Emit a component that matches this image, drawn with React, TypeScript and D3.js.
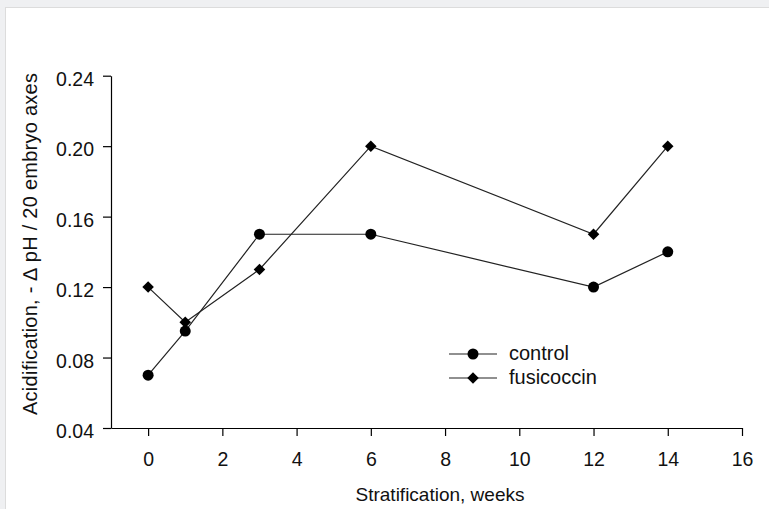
import React, { useEffect, useRef } from 'react';
import * as d3 from 'd3';

const weeks = [0, 1, 3, 6, 12, 14];
const controlValues = [0.07, 0.095, 0.15, 0.15, 0.12, 0.14];
const fusicoccinValues = [0.12, 0.10, 0.13, 0.20, 0.15, 0.20];
const xTicks = [0, 2, 4, 6, 8, 10, 12, 14, 16];
const yTicks = [0.04, 0.08, 0.12, 0.16, 0.20, 0.24];
const seriesNames = ['control', 'fusicoccin'];

const W = 769;
const H = 509;
const FONT = '"Liberation Sans", Arial, sans-serif';

const App = () => {
    const svgRef = useRef<SVGSVGElement | null>(null);

    useEffect(() => {
        if (!svgRef.current) return;
        const root = d3.select(svgRef.current);
        root.selectAll('*').remove();

        // page background + white panel
        root.append('rect').attr('width', W).attr('height', H).attr('fill', '#eff0f2');
        root.append('rect').attr('x', 5.5).attr('y', 7.5).attr('width', W).attr('height', H)
            .attr('fill', '#fff').attr('stroke', '#dcdcdc');

        const x = d3.scaleLinear().domain([-1, 16]).range([111, 742]);
        const y = d3.scaleLinear().domain([0.04, 0.24]).range([428, 75.7]);

        const axisStyle = (g: any) => {
            g.select('.domain').attr('stroke', '#000').attr('stroke-width', 1.2);
            g.selectAll('.tick line').attr('stroke', '#000').attr('stroke-width', 1.2);
            g.selectAll('.tick text').attr('fill', '#111').style('font-family', FONT).style('font-size', '19.5px');
        };

        root.append('g')
            .attr('transform', 'translate(0,428)')
            .call(d3.axisBottom(x).tickValues(xTicks).tickSize(8).tickSizeOuter(0).tickPadding(16).tickFormat(d3.format('d')))
            .call(axisStyle);

        root.append('g')
            .attr('transform', 'translate(111,0)')
            .call(d3.axisLeft(y).tickValues(yTicks).tickSize(8).tickSizeOuter(0).tickPadding(9).tickFormat(d3.format('.2f')))
            .call(axisStyle)
            .selectAll('.tick text').attr('dy', '0.5em');

        const line = d3.line<[number, number]>().x(d => x(d[0])).y(d => y(d[1]));
        const diamond = d3.symbol().type(d3.symbolDiamond2).size(85);

        const ctrl: [number, number][] = weeks.map((w, i) => [w, controlValues[i]]);
        const fusi: [number, number][] = weeks.map((w, i) => [w, fusicoccinValues[i]]);

        root.append('path').datum(ctrl).attr('d', line).attr('fill', 'none').attr('stroke', '#222').attr('stroke-width', 1.2);
        root.append('path').datum(fusi).attr('d', line).attr('fill', 'none').attr('stroke', '#222').attr('stroke-width', 1.2);

        root.selectAll('circle.c').data(ctrl).enter().append('circle')
            .attr('cx', d => x(d[0])).attr('cy', d => y(d[1])).attr('r', 5.5).attr('fill', '#000');
        root.selectAll('path.f').data(fusi).enter().append('path')
            .attr('d', diamond).attr('transform', d => `translate(${x(d[0])},${y(d[1])})`).attr('fill', '#000');

        // legend
        seriesNames.forEach((name, i) => {
            const ly = 354 + i * 24;
            const g = root.append('g');
            g.append('line').attr('x1', 449).attr('x2', 497).attr('y1', ly).attr('y2', ly)
                .attr('stroke', '#222').attr('stroke-width', 1.2);
            if (i === 0) {
                g.append('circle').attr('cx', 473).attr('cy', ly).attr('r', 5.5).attr('fill', '#000');
            } else {
                g.append('path').attr('d', diamond).attr('transform', `translate(473,${ly})`).attr('fill', '#000');
            }
            g.append('text').attr('x', 509).attr('y', ly + 6).text(name)
                .style('font-family', FONT).style('font-size', '20px').attr('fill', '#111');
        });

        // axis titles
        root.append('text').attr('x', 440).attr('y', 501).attr('text-anchor', 'middle')
            .style('font-family', FONT).style('font-size', '19px').attr('fill', '#111')
            .text('Stratification, weeks');
        root.append('text').attr('transform', 'translate(37,244) rotate(-90)').attr('text-anchor', 'middle')
            .attr('textLength', 342).attr('lengthAdjust', 'spacing')
            .style('font-family', FONT).style('font-size', '20px').attr('fill', '#111')
            .text('Acidification, - \u2206 pH / 20 embryo axes');
    }, []);

    return (
        <svg ref={svgRef} width={W} height={H} style={{ position: 'absolute', left: 0, top: 0, display: 'block' }} />
    );
};

export default App;
